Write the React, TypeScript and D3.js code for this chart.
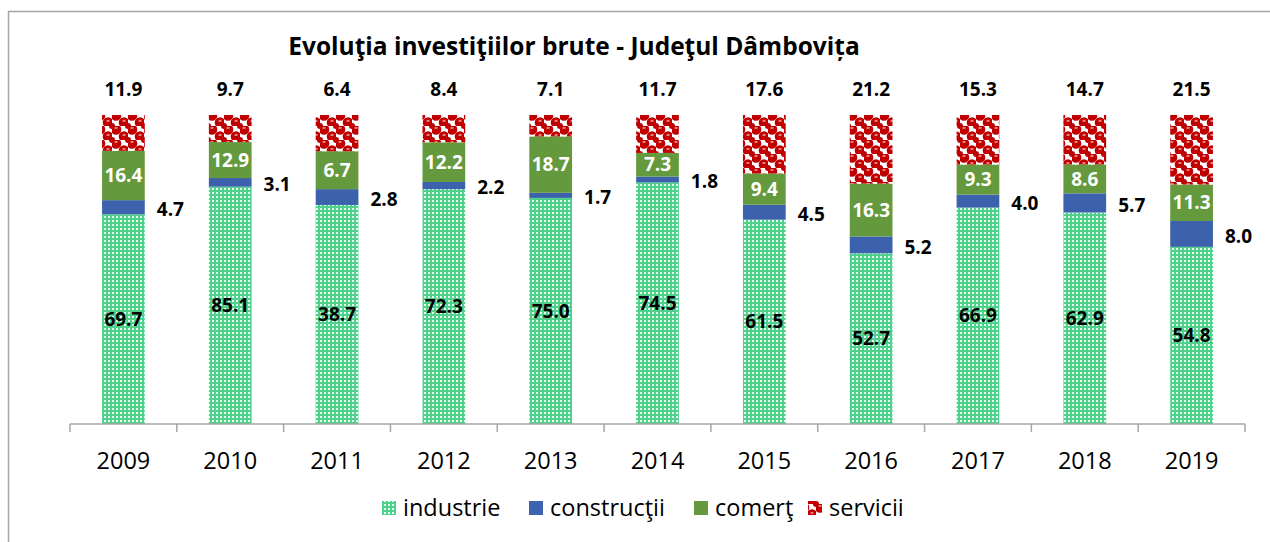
import * as d3 from 'd3';
import React from 'react';

const years = ['2009', '2010', '2011', '2012', '2013', '2014', '2015', '2016', '2017', '2018', '2019'];
const industrie = [69.7, 85.1, 38.7, 72.3, 75.0, 74.5, 61.5, 52.7, 66.9, 62.9, 54.8];
const constructii = [4.7, 3.1, 2.8, 2.2, 1.7, 1.8, 4.5, 5.2, 4.0, 5.7, 8.0];
const comert = [16.4, 12.9, 6.7, 12.2, 18.7, 7.3, 9.4, 16.3, 9.3, 8.6, 11.3];
const servicii = [11.9, 9.7, 6.4, 8.4, 7.1, 11.7, 17.6, 21.2, 15.3, 14.7, 21.5];
const seriesNames = ['industrie', 'construcţii', 'comerţ', 'servicii'];

const W = 1270;
const H = 542;
const margin = { top: 115, right: 25, bottom: 118, left: 70 };
const font = '"Open Sans", Lato, sans-serif';

export default function App() {
	const rows = years.map((year, i) => ({
		year,
		industrie: industrie[i],
		constructii: constructii[i],
		comert: comert[i],
		servicii: servicii[i],
	}));
	const keys = ['industrie', 'constructii', 'comert', 'servicii'];
	const fills = ['url(#pInd)', '#3c62ad', '#64993d', 'url(#pSer)'];

	// 100% stacked, like the original
	const stack = d3.stack<any>().keys(keys).offset(d3.stackOffsetExpand);
	const series = stack(rows);

	const x = d3
		.scaleBand()
		.domain(years)
		.range([margin.left, W - margin.right])
		.paddingInner(0.6)
		.paddingOuter(0.3);
	const y = d3.scaleLinear().domain([0, 1]).range([H - margin.bottom, margin.top]);
	const step = x.step();
	const bw = x.bandwidth();
	const base = y(0);

	const legendX = [382, 529, 694, 808];

	return (
		<svg width={W} height={H} style={{ position: 'absolute', left: 0, top: 0, background: '#fff' }}>
			<defs>
				<pattern id="pInd" width={4} height={4} patternUnits="userSpaceOnUse">
					<rect width={4} height={4} fill="#4fd08b" />
					<rect x={0} y={0} width={2} height={2} fill="#e6fff0" />
				</pattern>
				<pattern id="pSer" width={16} height={14} patternUnits="userSpaceOnUse">
					<rect width={16} height={14} fill="#fff" />
					<rect x={0} y={0} width={8} height={7} fill="#c00000" />
					<rect x={8} y={7} width={8} height={7} fill="#c00000" />
					<circle cx={4} cy={3.5} r={5.3} fill="#c00000" />
					<circle cx={12} cy={10.5} r={5.3} fill="#c00000" />
					<circle cx={16} cy={0} r={3} fill="#c00000" />
					<circle cx={0} cy={14} r={3} fill="#c00000" />
					<circle cx={16} cy={14} r={3} fill="#c00000" />
					<circle cx={0} cy={0} r={3} fill="#c00000" />
					<ellipse cx={4} cy={2} rx={1.8} ry={0.8} fill="#f4b8b8" />
					<ellipse cx={12} cy={9} rx={1.8} ry={0.8} fill="#f4b8b8" />
				</pattern>
			</defs>
			<rect x={8.5} y={11.5} width={1400} height={700} fill="none" stroke="#a6a6a6" strokeWidth={1.5} />
			<text x={574} y={55} textAnchor="middle" fontFamily={font} fontWeight="bold" fontSize={24.5} fill="#000">
				Evoluţia investiţiilor brute - Judeţul Dâmbovița
			</text>

			{series.map((s, si) => (
				<g key={s.key} fill={fills[si]}>
					{s.map((d: any) => (
						<rect
							key={d.data.year}
							x={x(d.data.year)}
							y={y(d[1])}
							width={bw}
							height={y(d[0]) - y(d[1])}
						/>
					))}
				</g>
			))}

			{/* axis */}
			<g stroke="#a6a6a6" strokeWidth={1.5}>
				<line x1={margin.left} x2={W - margin.right} y1={base} y2={base} />
				{d3.range(years.length + 1).map(i => (
					<line key={i} x1={margin.left + i * step} x2={margin.left + i * step} y1={base} y2={base + 8} />
				))}
			</g>
			<g fontFamily={font} fontSize={23.5} textAnchor="middle" fill="#000">
				{years.map(yr => (
					<text key={yr} x={(x(yr) as number) + bw / 2} y={469}>
						{yr}
					</text>
				))}
			</g>

			{/* data labels */}
			<g fontFamily={font} fontWeight="bold" fontSize={19}>
				{series[0].map((d: any, i: number) => (
					<text key={'i' + i} x={(x(d.data.year) as number) + bw / 2} y={(y(d[0]) + y(d[1])) / 2} dy="0.35em" textAnchor="middle" fill="#000">
						{industrie[i].toFixed(1)}
					</text>
				))}
				{series[1].map((d: any, i: number) => (
					<text key={'c' + i} x={(x(d.data.year) as number) + bw + 12} y={(y(d[0]) + y(d[1])) / 2 + 2} dy="0.35em" textAnchor="start" fill="#000">
						{constructii[i].toFixed(1)}
					</text>
				))}
				{series[2].map((d: any, i: number) => (
					<text key={'m' + i} x={(x(d.data.year) as number) + bw / 2} y={(y(d[0]) + y(d[1])) / 2} dy="0.35em" textAnchor="middle" fill="#fff">
						{comert[i].toFixed(1)}
					</text>
				))}
				{series[3].map((d: any, i: number) => (
					<text key={'s' + i} x={(x(d.data.year) as number) + bw / 2} y={89} dy="0.35em" textAnchor="middle" fill="#000">
						{servicii[i].toFixed(1)}
					</text>
				))}
			</g>

			{/* legend */}
			<g fontFamily={font} fontSize={23.5} fill="#000">
				{seriesNames.map((n, i) => (
					<g key={n}>
						<rect x={legendX[i]} y={501} width={14} height={14} fill={fills[i]} />
						<text x={legendX[i] + 21} y={516}>
							{n}
						</text>
					</g>
				))}
			</g>
		</svg>
	);
}
